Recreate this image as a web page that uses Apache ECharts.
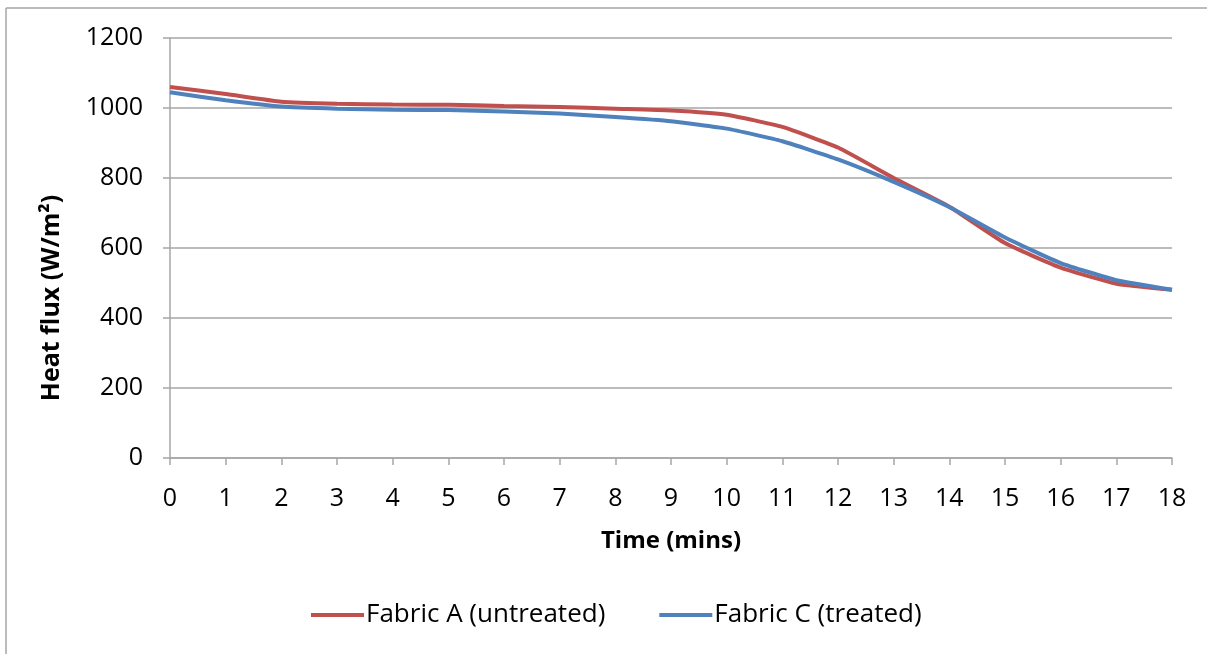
<!DOCTYPE html>
<html>
<head>
<meta charset="utf-8">
<title>Heat flux</title>
<script src="https://cdn.jsdelivr.net/npm/echarts@6/dist/echarts.min.js"></script>
<style>
  html, body { margin: 0; padding: 0; background: #fff; }
  #main { width: 1207px; height: 654px; }
</style>
</head>
<body>
<div id="main"></div>
<script>
// 数据
const minutes = ['0', '1', '2', '3', '4', '5', '6', '7', '8', '9', '10', '11', '12', '13', '14', '15', '16', '17', '18']
const fabricA = [1060, 1040, 1018, 1012, 1010, 1009, 1006, 1003, 998, 993, 981, 946, 887, 800, 718, 614, 544, 498, 481]
const fabricC = [1045, 1022, 1004, 998, 995, 994, 990, 984, 974, 962, 941, 905, 853, 789, 717, 630, 557, 508, 481]
const yTicks = [0, 200, 400, 600, 800, 1000, 1200]

const font = '"Open Sans", sans-serif'
const gridColor = '#a6a6a6'

const myChart = echarts.init(document.querySelector('#main'))
const option = {
  animation: false,
  textStyle: { fontFamily: font },
  // 外框（上、左）
  graphic: [
    { type: 'line', shape: { x1: 6, y1: 8, x2: 1207, y2: 8 }, style: { stroke: '#a6a6a6', lineWidth: 1.5 } },
    { type: 'line', shape: { x1: 6, y1: 8, x2: 6, y2: 654 }, style: { stroke: '#a6a6a6', lineWidth: 1.5 } }
  ],
  grid: {
    left: 170,
    right: 35,
    top: 38,
    bottom: 196
  },
  legend: {
    bottom: 21,
    left: 306,
    itemWidth: 53,
    itemHeight: 4,
    itemGap: 54,
    icon: 'rect',
    textStyle: { fontSize: 26, color: '#000', fontFamily: font, padding: [0, 0, 0, -3] },
    data: ['Fabric A (untreated)', 'Fabric C (treated)']
  },
  xAxis: {
    type: 'category',
    data: minutes,
    boundaryGap: false,
    name: 'Time (mins)',
    nameLocation: 'middle',
    nameGap: 71,
    nameTextStyle: { fontSize: 24, fontWeight: 'bold', color: '#000' },
    axisLine: { lineStyle: { color: gridColor, width: 1.5 } },
    axisTick: { show: true, length: 7, lineStyle: { color: gridColor, width: 1.5 }, alignWithLabel: true },
    axisLabel: { color: '#000', fontSize: 25, margin: 28 }
  },
  yAxis: {
    type: 'value',
    min: yTicks[0],
    max: yTicks[yTicks.length - 1],
    interval: 200,
    name: 'Heat flux (W/m²)',
    nameLocation: 'middle',
    nameGap: 106,
    // 标题整体下移（右侧留白使旋转后的文字偏下）
    nameTextStyle: { fontSize: 25, fontWeight: 'bold', color: '#000', padding: [0, 100, 0, 0] },
    axisLine: { show: true, lineStyle: { color: gridColor, width: 1.5 } },
    axisTick: { show: true, length: 7, lineStyle: { color: gridColor, width: 1.5 } },
    axisLabel: { color: '#000', fontSize: 25, margin: 27, formatter: v => String(v) },
    splitLine: { lineStyle: { color: gridColor, width: 1.5 } }
  },
  series: [
    {
      name: 'Fabric A (untreated)',
      type: 'line',
      data: fabricA,
      showSymbol: false,
      symbol: 'none',
      smooth: 0.15,
      lineStyle: { width: 4, color: '#C0504D' },
      itemStyle: { color: '#C0504D' }
    },
    {
      name: 'Fabric C (treated)',
      type: 'line',
      data: fabricC,
      showSymbol: false,
      symbol: 'none',
      smooth: 0.15,
      lineStyle: { width: 4, color: '#4F81BD' },
      itemStyle: { color: '#4F81BD' }
    }
  ]
}
myChart.setOption(option)
</script>
</body>
</html>
